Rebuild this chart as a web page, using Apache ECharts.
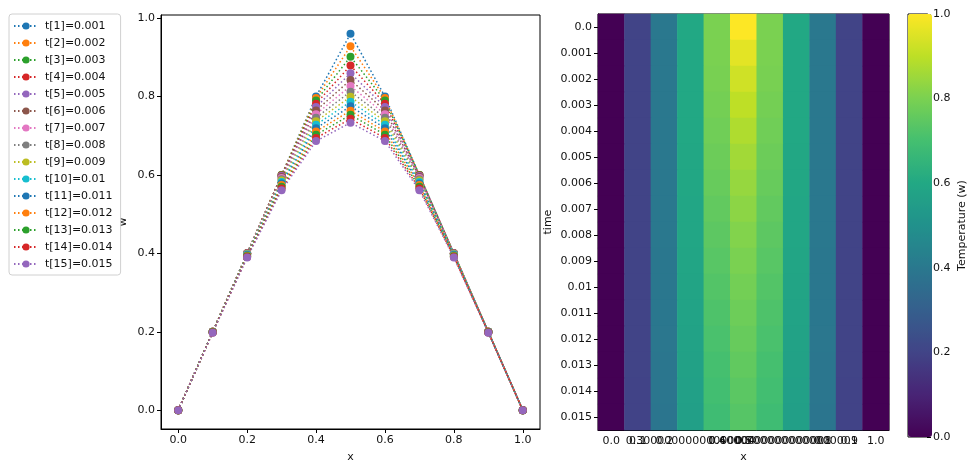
<!DOCTYPE html>
<html>
<head>
<meta charset="utf-8">
<script src="https://cdn.jsdelivr.net/npm/echarts@6/dist/echarts.min.js"></script>
<style>
  html, body { margin: 0; padding: 0; background: #fff; }
  #main { width: 969px; height: 468px; }
</style>
</head>
<body>
<div id="main"></div>
<script>
// grid points
var xValues = [0.0, 0.1, 0.2, 0.3, 0.4, 0.5, 0.6, 0.7, 0.8, 0.9, 1.0];
// heatmap column labels (as printed by the original)
var xLabels = ["0.0", "0.1", "0.2", "0.30000000000000004", "0.4", "0.5",
  "0.6000000000000001", "0.7000000000000001", "0.8", "0.9", "1.0"];
var timeLabels = ["0.0", "0.001", "0.002", "0.003", "0.004", "0.005", "0.006", "0.007",
  "0.008", "0.009", "0.01", "0.011", "0.012", "0.013", "0.014", "0.015"];
var seriesNames = ["t[1]=0.001", "t[2]=0.002", "t[3]=0.003", "t[4]=0.004", "t[5]=0.005",
  "t[6]=0.006", "t[7]=0.007", "t[8]=0.008", "t[9]=0.009", "t[10]=0.01",
  "t[11]=0.011", "t[12]=0.012", "t[13]=0.013", "t[14]=0.014", "t[15]=0.015"];

// w at each time step (row 0 = t 0.0)
var w0  = [0, 0.2, 0.4, 0.6, 0.8, 1.0, 0.8, 0.6, 0.4, 0.2, 0];
var w1  = [0, 0.2, 0.4, 0.6, 0.8, 0.96, 0.8, 0.6, 0.4, 0.2, 0];
var w2  = [0, 0.2, 0.4, 0.6, 0.796, 0.928, 0.796, 0.6, 0.4, 0.2, 0];
var w3  = [0, 0.2, 0.4, 0.5996, 0.7896, 0.9016, 0.7896, 0.5996, 0.4, 0.2, 0];
var w4  = [0, 0.2, 0.4, 0.5986, 0.7818, 0.8792, 0.7818, 0.5986, 0.4, 0.2, 0];
var w5  = [0, 0.2, 0.3998, 0.5971, 0.7732, 0.8597, 0.7732, 0.5971, 0.3998, 0.2, 0];
var w6  = [0, 0.2, 0.3996, 0.595, 0.7643, 0.8424, 0.7643, 0.595, 0.3996, 0.2, 0];
var w7  = [0, 0.1999, 0.3992, 0.5924, 0.7551, 0.8268, 0.7551, 0.5924, 0.3992, 0.1999, 0];
var w8  = [0, 0.1999, 0.3986, 0.5893, 0.746, 0.8125, 0.746, 0.5893, 0.3986, 0.1999, 0];
var w9  = [0, 0.1998, 0.3978, 0.5859, 0.737, 0.7992, 0.737, 0.5859, 0.3978, 0.1998, 0];
var w10 = [0, 0.1996, 0.3968, 0.5822, 0.7281, 0.7867, 0.7281, 0.5822, 0.3968, 0.1996, 0];
var w11 = [0, 0.1993, 0.3956, 0.5783, 0.7194, 0.775, 0.7194, 0.5783, 0.3956, 0.1993, 0];
var w12 = [0, 0.199, 0.3942, 0.5741, 0.7108, 0.7639, 0.7108, 0.5741, 0.3942, 0.199, 0];
var w13 = [0, 0.1986, 0.3927, 0.5698, 0.7025, 0.7533, 0.7025, 0.5698, 0.3927, 0.1986, 0];
var w14 = [0, 0.1982, 0.391, 0.5654, 0.6943, 0.7431, 0.6943, 0.5654, 0.391, 0.1982, 0];
var w15 = [0, 0.1977, 0.3892, 0.5608, 0.6863, 0.7334, 0.6863, 0.5608, 0.3892, 0.1977, 0];
var wRows = [w0, w1, w2, w3, w4, w5, w6, w7, w8, w9, w10, w11, w12, w13, w14, w15];

var lineTicks = [0, 0.2, 0.4, 0.6, 0.8, 1.0];

// matplotlib tab10
var tab10 = ["#1f77b4", "#ff7f0e", "#2ca02c", "#d62728", "#9467bd",
  "#8c564b", "#e377c2", "#7f7f7f", "#bcbd22", "#17becf"];
var viridis = ["#440154", "#482475", "#414487", "#355f8d", "#2a788e", "#21918c",
  "#22a884", "#44bf70", "#7ad151", "#bddf26", "#fde725"];

var FONT = "DejaVu Sans";
var txt = { color: "#111", fontFamily: FONT, fontSize: 11 };

var lineSeries = seriesNames.map(function (name, i) {
  var row = wRows[i + 1];
  return {
    name: name,
    type: "line",
    xAxisIndex: 0,
    yAxisIndex: 0,
    data: xValues.map(function (x, j) { return [x, row[j]]; }),
    symbol: "circle",
    symbolSize: 8,
    itemStyle: { color: tab10[i % 10] },
    lineStyle: { color: tab10[i % 10], width: 1.5, type: [1.5, 2.5] },
    emphasis: { disabled: true },
    animation: false
  };
});

var heatData = [];
wRows.forEach(function (row, r) {
  row.forEach(function (v, c) { heatData.push([c, r, v]); });
});

var chart = echarts.init(document.getElementById("main"));

var option = {
  animation: false,
  textStyle: { fontFamily: FONT },
  legend: {
    data: seriesNames,
    orient: "vertical",
    left: 9,
    top: 14,
    padding: [5, 8, 4, 4],
    itemWidth: 24,
    itemHeight: 9,
    itemGap: 3,
    borderColor: "#d0d0d0",
    borderWidth: 1,
    borderRadius: 3,
    textStyle: { color: "#111", fontFamily: FONT, fontSize: 11, lineHeight: 14, padding: [0, 0, 0, 2] }
  },
  grid: [
    { left: 161, top: 15, width: 379, height: 422, show: true, borderColor: "#000", borderWidth: 1 },
    { left: 598, top: 14, width: 291, height: 423, show: true, borderColor: "#000", borderWidth: 1 },
    { left: 908, top: 14, width: 24, height: 423, show: true, borderColor: "#000", borderWidth: 1 }
  ],
  xAxis: [
    {
      gridIndex: 0, type: "value", min: -0.05, max: 1.05,
      name: "x", nameLocation: "middle", nameGap: 23, nameTextStyle: txt,
      axisLine: { onZero: false, lineStyle: { color: "#000" } },
      axisTick: { customValues: lineTicks, length: 4, lineStyle: { color: "#000" } },
      axisLabel: Object.assign({ customValues: lineTicks, margin: 6, formatter: function (v) { return v.toFixed(1); } }, txt),
      splitLine: { show: false }
    },
    {
      gridIndex: 1, type: "category", data: xLabels,
      name: "x", nameLocation: "middle", nameGap: 21, nameTextStyle: txt,
      axisLine: { onZero: false, lineStyle: { color: "#000" } },
      axisTick: { alignWithLabel: true, interval: 0, length: 4, lineStyle: { color: "#000" } },
      axisLabel: Object.assign({ interval: 0, margin: 6, hideOverlap: false }, txt),
      splitLine: { show: false }
    },
    { gridIndex: 2, type: "value", min: 0, max: 1, show: false }
  ],
  yAxis: [
    {
      gridIndex: 0, type: "value", min: -0.048, max: 1.008,
      name: "w", nameLocation: "middle", nameGap: 32, nameRotate: 90, nameTextStyle: txt,
      axisLine: { show: true, onZero: false, lineStyle: { color: "#000" } },
      axisTick: { show: true, customValues: lineTicks, length: 4, lineStyle: { color: "#000" } },
      axisLabel: Object.assign({ customValues: lineTicks, margin: 6, formatter: function (v) { return v.toFixed(1); } }, txt),
      splitLine: { show: false }
    },
    {
      gridIndex: 1, type: "category", data: timeLabels, inverse: true,
      name: "time", nameLocation: "middle", nameGap: 44, nameRotate: 90, nameTextStyle: txt,
      axisLine: { show: true, onZero: false, lineStyle: { color: "#000" } },
      axisTick: { show: true, alignWithLabel: true, interval: 0, length: 4, lineStyle: { color: "#000" } },
      axisLabel: Object.assign({ interval: 0, margin: 6 }, txt),
      splitLine: { show: false }
    },
    {
      gridIndex: 2, type: "value", min: 0, max: 1, interval: 0.2, position: "right",
      name: "Temperature (w)", nameLocation: "middle", nameGap: 30, nameRotate: 90, nameTextStyle: txt,
      axisLine: { show: true, onZero: false, lineStyle: { color: "#000" } },
      axisTick: { show: true, length: 4, lineStyle: { color: "#000" } },
      axisLabel: Object.assign({ margin: 6, formatter: function (v) { return v.toFixed(1); } }, txt),
      splitLine: { show: false }
    }
  ],
  visualMap: {
    type: "continuous",
    min: 0,
    max: 1,
    seriesIndex: 15,
    left: 908,
    top: 14,
    itemWidth: 24,
    itemHeight: 423,
    padding: 0,
    calculable: false,
    hoverLink: false,
    text: null,
    showLabel: false,
    inRange: { color: viridis }
  },
  series: lineSeries.concat([
    {
      type: "heatmap",
      xAxisIndex: 1,
      yAxisIndex: 1,
      data: heatData,
      emphasis: { disabled: true }
    },
    {
      type: "line",
      xAxisIndex: 2,
      yAxisIndex: 2,
      data: [],
      silent: true
    }
  ])
};

chart.setOption(option);
</script>
</body>
</html>
